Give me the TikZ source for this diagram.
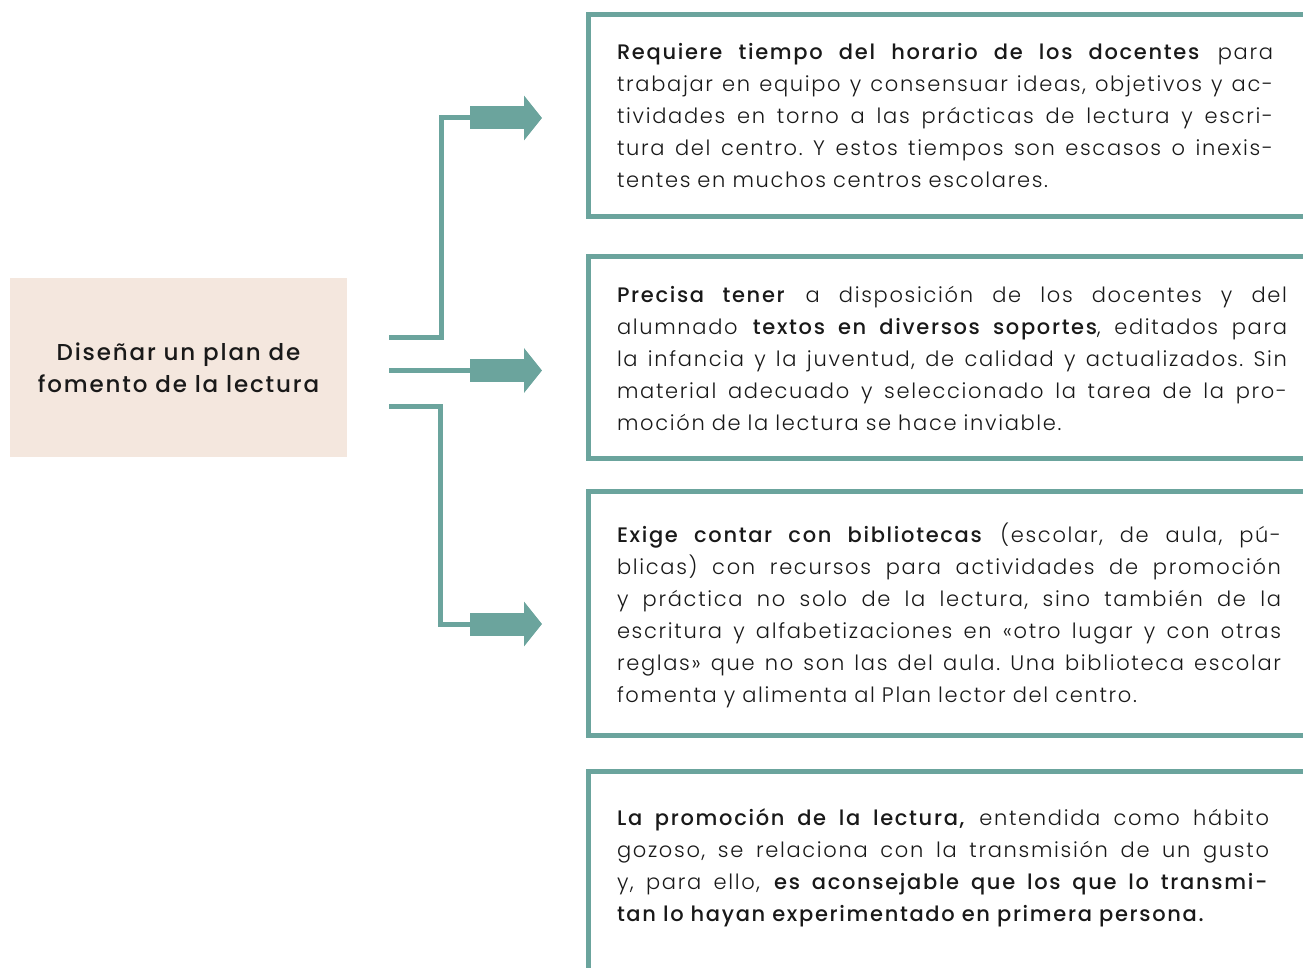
\documentclass[tikz,border=0pt]{standalone}
\usepackage{fontspec}
\setmainfont{Poppins}[UprightFont=* Light, BoldFont=* Medium, LetterSpace=8]
\usetikzlibrary{arrows.meta}
\usetikzlibrary{calc}

\definecolor{verde}{RGB}{107,164,157}
\definecolor{crema}{RGB}{244,231,222}
\definecolor{tinta}{RGB}{25,25,25}

% one justified line of a text block
\newlength{\colw}
\newcommand{\jl}[1]{\makebox[\colw][s]{\spaceskip=0pt\xspaceskip=0pt\frenchspacing #1}\\}

\tikzset{
	conn/.style={verde, line width=5pt},
	bigarrow/.style={verde, line width=23pt, -{Triangle[length=18pt, width=44pt]}},
	marco/.style={verde, line width=5pt},
	caja/.style={inner sep=0pt, minimum width=714pt},
	texto/.style={anchor=west, inner sep=0pt, align=left, text=tinta,
		text width=#1, execute at begin node={\setlength{\colw}{#1}\frenchspacing},
		font=\fontsize{21}{32}\selectfont},
}

\begin{document}
\begin{tikzpicture}[x=1pt, y=-1pt]
	\useasboundingbox (0, 0) rectangle (1303, 968);

	% left box
	\node[fill=crema, minimum width=337pt, minimum height=179pt, inner sep=0pt,
		align=center, text=tinta, font=\fontsize{23}{32}\selectfont\bfseries]
		(plan) at (178.5, 367.5) {Diseñar un plan de\\fomento de la lectura};

	% frames on the right (open to the right)
	\node[caja, minimum height=202pt] (b1) at (946, 115.5) {};
	\node[caja, minimum height=202pt] (b2) at (946, 357.5) {};
	\node[caja, minimum height=243.5pt] (b3) at (946, 613.25) {};
	\node[caja, minimum height=196pt] (b4) at (946, 870) {};
	\foreach \b in {b1, b2, b3}
		\draw[marco] ($(\b.north east)+(3,0)$) -- (\b.north west) -- (\b.south west) -- ($(\b.south east)+(3,0)$);
	\draw[marco] ($(b4.north east)+(3,0)$) -- (b4.north west) -- ($(b4.south west)+(0,3)$);

	% texts
	\node[texto=656pt] (t1) at ($(b1.west)+(28,0)$) {%
		\jl{\textbf{Requiere tiempo del horario de los docentes} para}
		\jl{trabajar en equipo y consensuar ideas, objetivos y ac-}
		\jl{tividades en torno a las prácticas de lectura y escri-}
		\jl{tura del centro. Y estos tiempos son escasos o inexis-}
		tentes en muchos centros escolares.};
	\node[texto=670pt] (t2) at ($(b2.west)+(28,0.5)$) {%
		\jl{\textbf{Precisa tener} a disposición de los docentes y del}
		\jl{alumnado \textbf{textos en diversos soportes}, editados para}
		\jl{la infancia y la juventud, de calidad y actualizados. Sin}
		\jl{material adecuado y seleccionado la tarea de la pro-}
		moción de la lectura se hace inviable.};
	\node[texto=664pt] (t3) at ($(b3.west)+(28,1.75)$) {%
		\jl{\textbf{Exige contar con bibliotecas} (escolar, de aula, pú-}
		\jl{blicas) con recursos para actividades de promoción}
		\jl{y práctica no solo de la lectura, sino también de la}
		\jl{escritura y alfabetizaciones en «otro lugar y con otras}
		\jl{reglas» que no son las del aula. Una biblioteca escolar}
		fomenta y alimenta al Plan lector del centro.};
	\node[texto=652pt] (t4) at ($(b4.west)+(28,-2)$) {%
		\jl{\textbf{La promoción de la lectura,} entendida como hábito}
		\jl{gozoso, se relaciona con la transmisión de un gusto}
		\jl{y, para ello, \textbf{es aconsejable que los que lo transmi-}}
		\textbf{tan lo hayan experimentado en primera persona.}};

	% connectors
	\coordinate (s1) at ($(plan.east)+(42,-30.5)$);
	\coordinate (s2) at ($(plan.east)+(42,3)$);
	\coordinate (s3) at ($(plan.east)+(42,38.5)$);
	\coordinate (a1) at (470, 118);
	\coordinate (a2) at (470, 370.5);
	\coordinate (a3) at (470, 624);
	\coordinate (e1) at (542, 118);
	\coordinate (e2) at (542, 370.5);
	\coordinate (e3) at (542, 624);
	\draw[conn] (s1) -- ++(52.5,0) |- (a1);
	\draw[conn] (s2) -- (a2);
	\draw[conn] (s3) -- ++(51,0) |- (a3);
	\draw[bigarrow] (a1) -- (e1);
	\draw[bigarrow] (a2) -- (e2);
	\draw[bigarrow] (a3) -- (e3);
\end{tikzpicture}
\end{document}
